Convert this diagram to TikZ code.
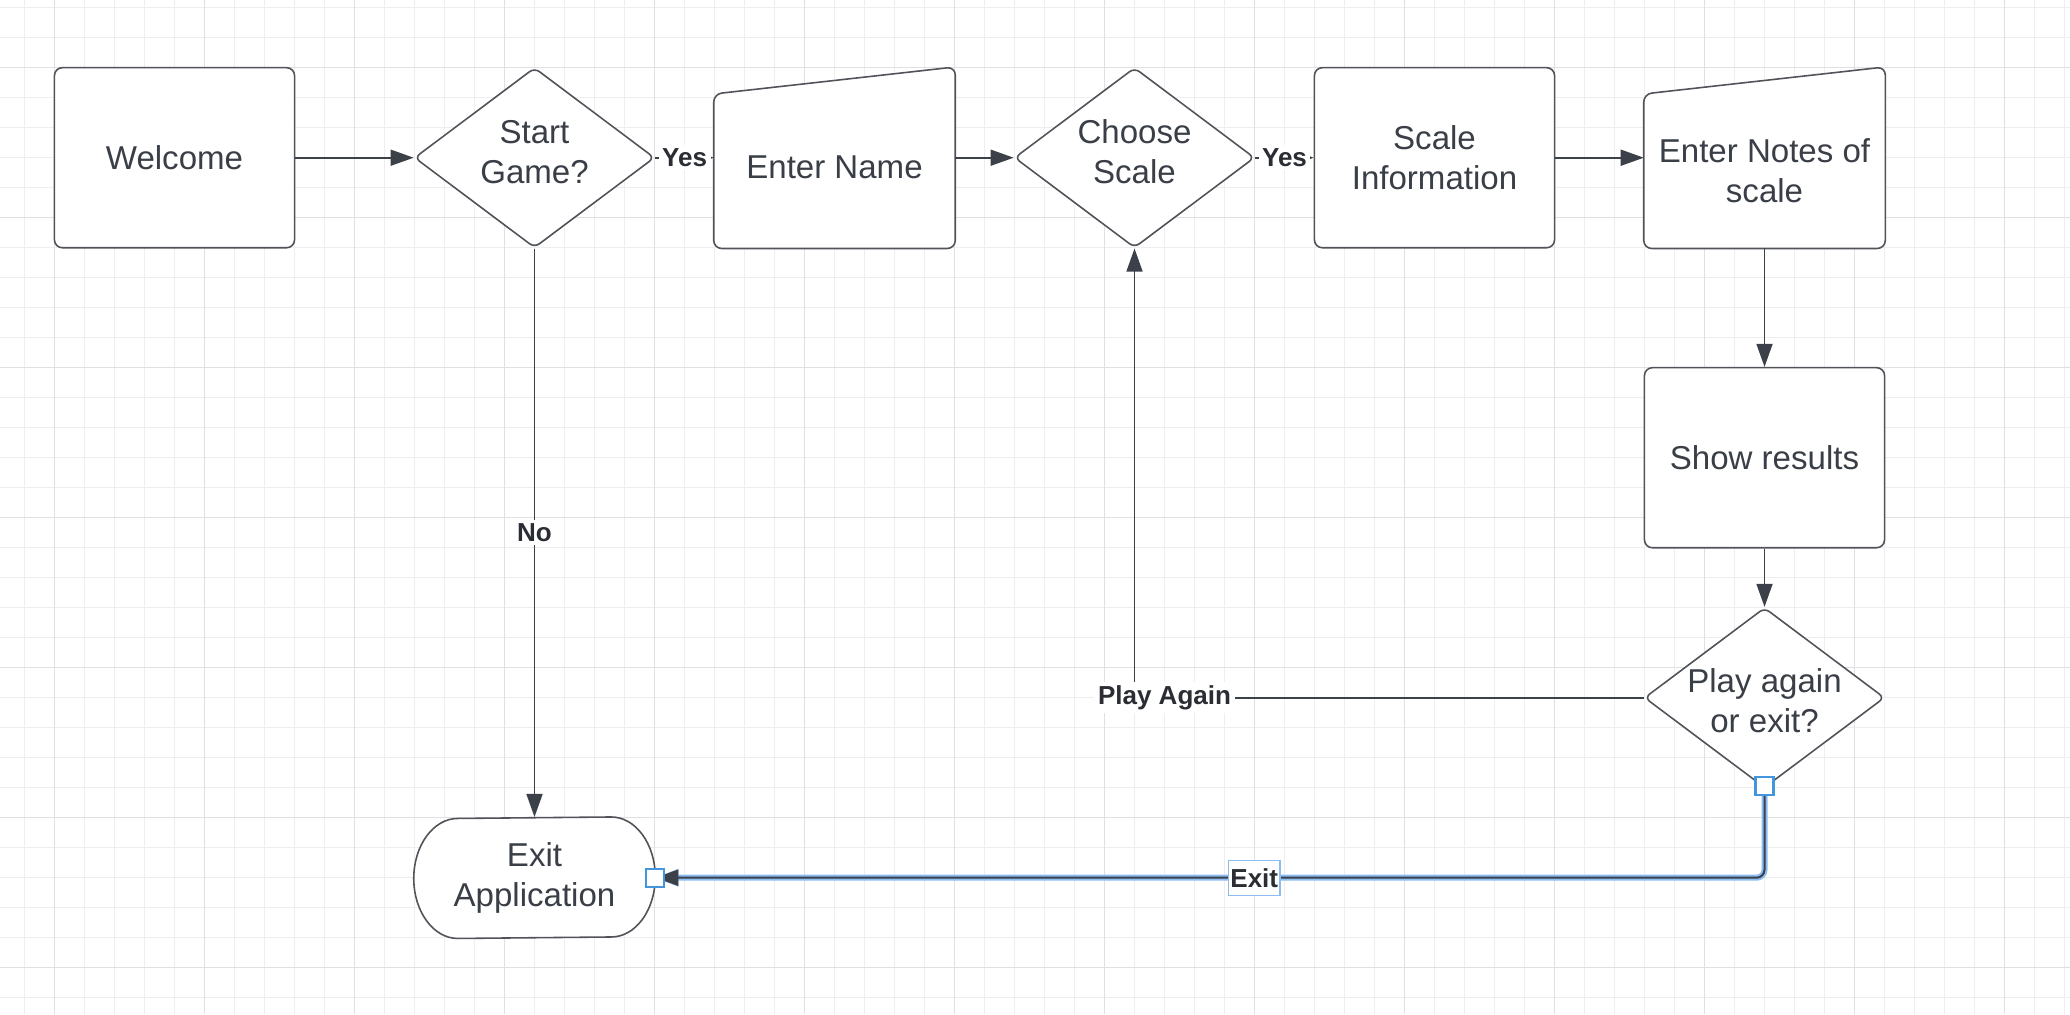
\documentclass[tikz,border=0pt]{standalone}
\usepackage{fontspec}
\setmainfont{Liberation Sans}
\usetikzlibrary{shapes.geometric,arrows.meta}
\definecolor{linegray}{RGB}{60,65,73}
\definecolor{edgegray}{RGB}{80,84,90}
\definecolor{textgray}{RGB}{58,63,71}
\definecolor{labelgray}{RGB}{42,46,52}
\definecolor{minorgrid}{RGB}{238,238,238}
\definecolor{majorgrid}{RGB}{224,224,224}
\definecolor{hlblue}{RGB}{140,188,242}
\definecolor{handleblue}{RGB}{66,150,222}
\tikzset{
  every node/.style={text=textgray, font=\fontsize{9.4}{11.4}\selectfont},
  box/.style={draw=edgegray, fill=white, line width=0.45pt, rounded corners=0.08cm,
    minimum width=2.4cm, minimum height=1.8cm, align=center, inner sep=0pt},
  decision/.style={diamond, draw=edgegray, fill=white, line width=0.45pt, rounded corners=0.06cm,
    minimum width=2.4cm, minimum height=1.8cm, inner sep=0pt},
  slot/.style={minimum width=2.4cm, minimum height=1.8cm, inner sep=0pt},
  inside/.style={align=center, inner sep=0pt},
  outline/.style={draw=edgegray, fill=white, line width=0.45pt, line join=round},
  flow/.style={draw=linegray, line width=0.45pt, -{Triangle[length=0.23cm,width=0.16cm]}},
  tinyflow/.style={draw=linegray, line width=0.45pt, -{Triangle[length=0.08cm,width=0.06cm]}},
  lbl/.style={font=\fontsize{7.4}{8.8}\selectfont\bfseries, text=labelgray, fill=white, inner sep=1pt},
  exitlbl/.style={lbl, draw=hlblue, sharp corners, line width=0.4pt, minimum width=0.51cm, minimum height=0.35cm, inner sep=0.5pt},
  handle/.style={draw=handleblue, fill=white, sharp corners, line width=0.6pt, minimum size=0.18cm, inner sep=0pt},
}
\begin{document}
\begin{tikzpicture}[x=0.01cm,y=0.01cm]
  \useasboundingbox (0,0) rectangle (2070,-1014);
  \fill[white] (0,0) rectangle (2070,-1014);
  % grid
  \foreach \gx in {0,...,68} \draw[minorgrid, line width=0.3pt] (24.5+30*\gx,0) -- (24.5+30*\gx,-1014);
  \foreach \gy in {0,...,33} \draw[minorgrid, line width=0.3pt] (0,-7.7-30*\gy) -- (2070,-7.7-30*\gy);
  \foreach \gx in {0,...,13} \draw[majorgrid, line width=0.35pt] (54.5+150*\gx,0) -- (54.5+150*\gx,-1014);
  \foreach \gy in {0,...,6} \draw[majorgrid, line width=0.35pt] (0,-67.7-150*\gy) -- (2070,-67.7-150*\gy);

  % shapes
  \node[box] (welcome) at (174.5,-157.7) {Welcome};
  \node[decision, label={[inside, yshift=0.06cm]center:Start\\Game?}] (start) at (534.5,-157.7) {};
  \node[slot] (name) at (834.5,-157.7) {};
  \draw[outline, rounded corners=0.08cm] (name.south west) -- ([yshift=-0.27cm]name.north west)
    -- (name.north east) -- (name.south east) -- cycle;
  \node[inside, yshift=-0.1cm] at (name.center) {Enter Name};
  \node[decision, label={[inside, yshift=0.06cm]center:Choose\\Scale}] (choose) at (1134.5,-157.7) {};
  \node[box] (info) at (1434.5,-157.7) {Scale\\Information};
  \node[slot] (notes) at (1764.5,-157.7) {};
  \draw[outline, rounded corners=0.08cm] (notes.south west) -- ([yshift=-0.27cm]notes.north west)
    -- (notes.north east) -- (notes.south east) -- cycle;
  \node[inside, yshift=-0.13cm] at (notes.center) {Enter Notes of\\scale};
  \node[box] (results) at (1764.5,-457.7) {Show results};
  \node[decision, label={[inside, yshift=-0.03cm]center:Play again\\or exit?}] (again) at (1764.5,-697.7) {};
  \node[slot, minimum height=1.2cm] (exit) at (534.5,-877.7) {};
  \draw[outline] ([xshift=-0.44cm]exit.north east)
    arc[start angle=90, end angle=-90, x radius=44, y radius=60]
    -- ([xshift=0.44cm]exit.south west)
    arc[start angle=270, end angle=90, x radius=44, y radius=60] -- cycle;
  \node[inside] at (exit.center) {Exit\\Application};

  % connectors
  \draw[flow] (welcome) -- (start);
  \draw[tinyflow] (start) -- node[lbl] {Yes} (name);
  \draw[flow] (name) -- (choose);
  \draw[tinyflow] (choose) -- node[lbl] {Yes} (info);
  \draw[flow] (info) -- (notes);
  \draw[flow] (notes) -- (results);
  \draw[flow] (results) -- (again);
  \draw[flow] (again.west) -| node[lbl, xshift=0.3cm] {Play Again} (choose.south);
  \draw[flow] (start.south) -- node[lbl] {No} (exit.north);
  \draw[flow, line width=0.02cm, rounded corners=0.08cm, preaction={draw=hlblue, line width=0.06cm}]
    (again.south) |- node[pos=0.73, exitlbl] {Exit} (exit.east);
  \node[handle] (grip1) at ([yshift=0.03cm]again.south) {};
  \node[handle] (grip2) at (exit.east) {};
\end{tikzpicture}
\end{document}
